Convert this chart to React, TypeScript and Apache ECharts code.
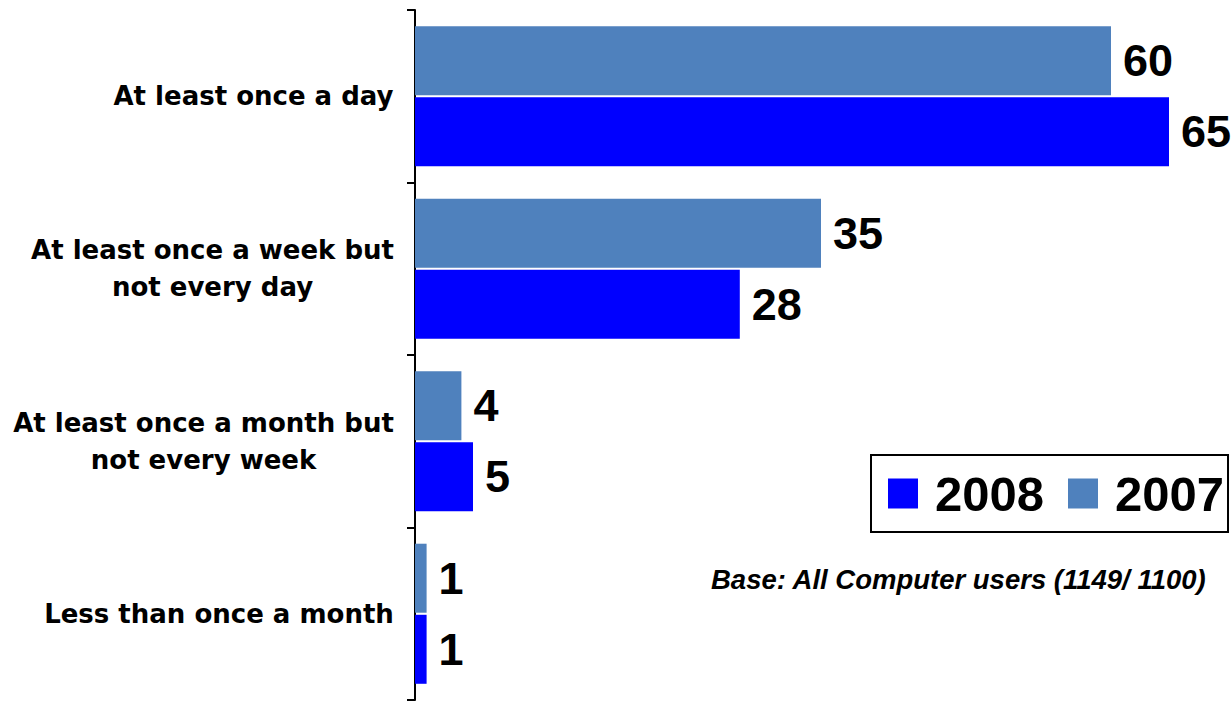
import React, { useEffect, useRef } from "react";
import * as echarts from "echarts";

const categories = [
  "At least once a day",
  "At least once a week but\nnot every day",
  "At least once a month but\nnot every week",
  "Less than once a month",
];
const values2007 = [60, 35, 4, 1];
const values2008 = [65, 28, 5, 1];
const baseNote = "Base: All Computer users (1149/ 1100)";

const LABEL_SIZE = 26;
const LABEL_FONT = `bold ${LABEL_SIZE}px 'DejaVu Sans'`;

function measure(text: string): number {
  const c = document.createElement("canvas");
  const ctx = c.getContext("2d")!;
  ctx.font = LABEL_FONT;
  return Math.ceil(ctx.measureText(text).width) + 2;
}

export default function App() {
  const ref = useRef<HTMLDivElement>(null);
  useEffect(() => {
    document.body.style.margin = "0";
    const chart = echarts.init(ref.current!, null, { renderer: "svg" });

    const rich: Record<string, any> = {};
    categories.forEach((c, i) => {
      const lines = c.split("\n");
      const w = Math.max(...lines.map(measure));
      rich["l" + i] = {
        width: w,
        align: "center",
        color: "#000",
        fontFamily: "DejaVu Sans, sans-serif",
        fontWeight: "bold",
        fontSize: LABEL_SIZE,
        lineHeight: 37,
      };
    });

    const valueLabel = {
      show: true,
      position: "right",
      distance: 12,
      color: "#000",
      fontFamily: "Liberation Sans, Arial, sans-serif",
      fontWeight: "bold",
      fontSize: 45,
    };
    chart.setOption({
      animation: false,
      backgroundColor: "#fff",
      grid: { left: 415, right: 5, top: 10, bottom: 2, containLabel: false },
      xAxis: {
        type: "value",
        min: 0,
        max: 70,
        show: false,
      },
      yAxis: {
        type: "category",
        data: categories,
        inverse: true,
        axisLine: { show: true, lineStyle: { color: "#000", width: 2 } },
        axisTick: { show: true, length: 8, lineStyle: { color: "#000", width: 2 } },
        axisLabel: {
          color: "#000",
          fontFamily: "DejaVu Sans, sans-serif",
          fontWeight: "bold",
          fontSize: LABEL_SIZE,
          lineHeight: 37,
          margin: 20,
          align: "right",
          formatter: (val: string, idx: number) =>
            val
              .split("\n")
              .map((line) => `{l${idx}|${line}}`)
              .join("\n"),
          rich,
        },
        splitLine: { show: false },
      },
      legend: {
        data: ["2008", "2007"],
        left: 871,
        top: 455,
        orient: "horizontal",
        borderColor: "#000",
        borderWidth: 2,
        padding: [14, 4, 14, 17],
        itemWidth: 30,
        itemHeight: 30,
        itemGap: 24,
        icon: "rect",
        textStyle: {
          color: "#000",
          fontFamily: "Liberation Sans, Arial, sans-serif",
          fontWeight: "bold",
          fontSize: 49,
          padding: [0, 0, 0, 12],
        },
      },
      graphic: [
        {
          type: "text",
          left: 711,
          top: 566,
          style: {
            text: baseNote,
            fill: "#000",
            font: "italic bold 27.5px 'Liberation Sans', Arial, sans-serif",
          },
        },
      ],
      series: [
        {
          name: "2007",
          type: "bar",
          data: values2007,
          barWidth: 69,
          barGap: "3%",
          itemStyle: { color: "#4F81BD" },
          label: valueLabel,
        },
        {
          name: "2008",
          type: "bar",
          data: values2008,
          barWidth: 69,
          barGap: "3%",
          itemStyle: { color: "#0000FF" },
          label: valueLabel,
        },
      ],
    });
    return () => chart.dispose();
  }, []);
  return (
    <div
      ref={ref}
      style={{ position: "absolute", left: 0, top: 0, width: 1232, height: 702 }}
    />
  );
}
